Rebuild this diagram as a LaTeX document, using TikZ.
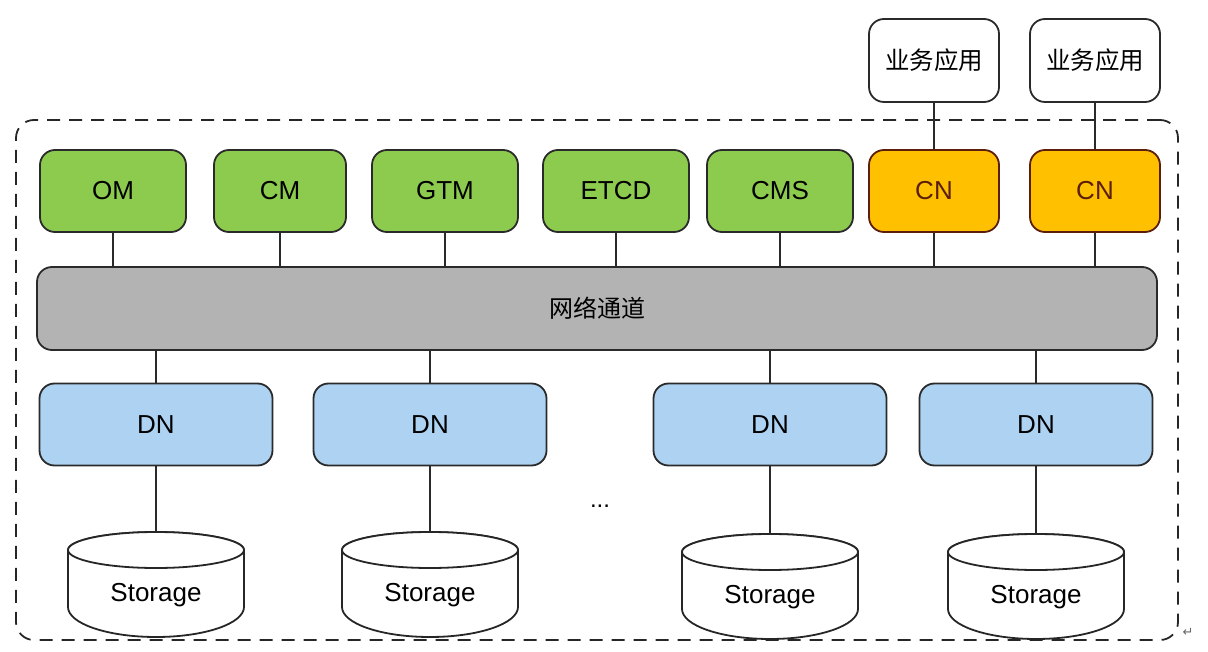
\documentclass[tikz,border=0pt]{standalone}
\usepackage{fontspec}
\setmainfont{Liberation Sans}
\newfontfamily\cjk{Noto Sans CJK SC}
\newfontfamily\dejavu{DejaVu Sans}
\definecolor{gfill}{HTML}{8DCB4E}
\definecolor{ofill}{HTML}{FFC000}
\definecolor{ocol}{HTML}{5A1E0A}
\definecolor{bfill}{HTML}{AED3F2}
\definecolor{grfill}{HTML}{B3B3B3}
\definecolor{edge}{HTML}{2A2A2A}
\begin{document}
\begin{tikzpicture}[x=1pt,y=-1pt,
  box/.style={draw=edge, line width=1.8pt, rounded corners=15pt, minimum height=82pt, inner sep=0pt, font=\fontsize{26}{30}\selectfont},
  green/.style={box, fill=gfill},
  orange/.style={box, fill=ofill, draw=ocol, text=ocol},
  dnbox/.style={box, fill=bfill, minimum width=233pt},
  app/.style={box, fill=white, font=\cjk\fontsize{24.5}{28}\selectfont},
  link/.style={draw=edge, line width=1.8pt},
  cyl/.style={draw=black!85, line width=1.8pt, fill=white},
  frame/.style={draw=black!85, line width=1.8pt, dash pattern=on 13pt off 9pt, rounded corners=18pt, inner sep=0pt}
]
\useasboundingbox (0,0) rectangle (1208,652);
\node[frame, minimum width=1162pt, minimum height=520pt] (frame) at (597,380) {};

% top row
\node[green, minimum width=146pt] (om) at (113,191) {OM};
\node[green, minimum width=132pt] (cm) at (280,191) {CM};
\node[green, minimum width=146pt] (gtm) at (445,191) {GTM};
\node[green, minimum width=146pt] (etcd) at (616,191) {ETCD};
\node[green, minimum width=146pt] (cms) at (780,191) {CMS};
\node[orange, minimum width=130pt] (cn1) at (934,191) {CN};
\node[orange, minimum width=130pt] (cn2) at (1095,191) {CN};

% apps
\node[app, minimum width=130pt, minimum height=83pt] (app1) at (934,60.5) {业务应用};
\node[app, minimum width=130pt, minimum height=83pt] (app2) at (1095,60.5) {业务应用};

% bar
\node[box, fill=grfill, minimum width=1120pt, minimum height=83pt, font=\cjk\fontsize{24}{28}\selectfont] (bar) at (597,308.5) {网络通道};

% DN
\node[dnbox] (dn1) at (156,424.5) {DN};
\node[dnbox] (dn2) at (430,424.5) {DN};
\node[dnbox] (dn3) at (770,424.5) {DN};
\node[dnbox] (dn4) at (1036,424.5) {DN};

% connectors top
\foreach \n in {om,cm,gtm,etcd,cms,cn1,cn2}
  \draw[link] (\n.south) -- (\n.south |- bar.north);
\draw[link] (app1.south) -- (cn1.north);
\draw[link] (app2.south) -- (cn2.north);
\foreach \n in {dn1,dn2,dn3,dn4}
  \draw[link] (\n.north |- bar.south) -- (\n.north);

% storage cylinders
\foreach \i/\cx/\cy in {1/156/550,2/430/550,3/770/552,4/1036/552} {
  \coordinate (st\i top) at (\cx,\cy-18);
  \draw[cyl] (\cx-88,\cy) -- (\cx-88,\cy+57) arc[start angle=180, end angle=360, x radius=88pt, y radius=30pt] -- (\cx+88,\cy) arc[start angle=0, end angle=180, x radius=88pt, y radius=18pt] -- cycle;
  \draw[cyl] (\cx,\cy) ellipse[x radius=88pt, y radius=18pt];
  \node[font=\fontsize{26}{30}\selectfont] (st\i) at (\cx,\cy+45) {Storage};
}
\draw[link] (dn1.south) -- (st1top);
\draw[link] (dn2.south) -- (st2top);
\draw[link] (dn3.south) -- (st3top);
\draw[link] (dn4.south) -- (st4top);

\node[font=\fontsize{24}{28}\selectfont] (dots) at (600,506) {...};
\node[font=\dejavu\fontsize{13}{15}\selectfont, text=black!60, inner sep=0pt] (ret) at (1188,632) {↵};
\end{tikzpicture}
\end{document}
